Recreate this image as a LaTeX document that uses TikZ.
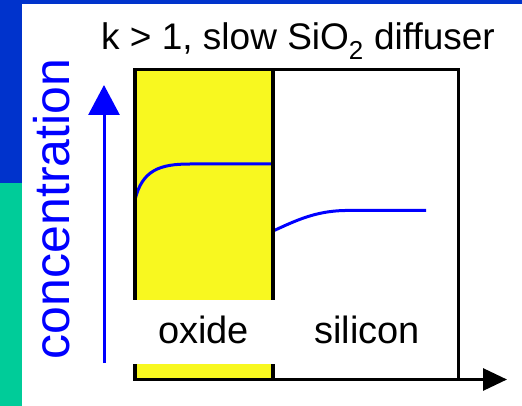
\documentclass[tikz,border=0pt]{standalone}
\usepackage{fontspec}
\setmainfont{Liberation Sans}
\usepackage{tikz}
\usetikzlibrary{arrows.meta,positioning}
\definecolor{barblue}{HTML}{0033CC}
\definecolor{barteal}{HTML}{00CC99}
\definecolor{oxyellow}{HTML}{F8F820}
\definecolor{curveblue}{HTML}{0000FF}

\begin{document}
\begin{tikzpicture}[
    x=1pt, y=-1pt,
    mylabel/.style={anchor=base, inner sep=0pt, font=\fontsize{38}{40}\selectfont},
    myaxis/.style={line width=3pt},
    mycurve/.style={curveblue, line width=3pt}
]
\useasboundingbox (0,0) rectangle (522,406);
\fill[white] (0,0) rectangle (522,406);
% side bars
\fill[barblue] (0,0) rectangle (522,4);
\fill[barblue] (0,0) rectangle (22,183);
\fill[barteal] (0,183) rectangle (22,406);

% oxide region
\fill[oxyellow] (137,71) rectangle (272,378);
\draw[mycurve] (135,200) .. controls (142,170) and (160,164) .. (190,164) -- (272,164);
\draw[mycurve] (273,231) .. controls (295,221) and (315,211) .. (345,210.5) -- (426,210.5);
\draw[line width=3.5pt] (135,69.5) rectangle (458.5,379.5);
\draw[line width=3.5pt] (273,71) -- (273,379);
\fill[white] (131,300) rectangle (456,364);

% labels
\node[mylabel, font=\fontsize{37}{40}\selectfont] (T) at (298,50) {k > 1, slow SiO\textsubscript{2} diffuser};
\node[mylabel] (O) at (203.5,343) {oxide};
\node[mylabel] (S) at (367,343) {silicon};
\node[rotate=90, inner sep=0pt, text=curveblue, font=\fontsize{50}{52}\selectfont] (C) at (52,209) {concentration};

% axes
\coordinate (V0) at (104,363);
\coordinate (V1) at (104,85);
\coordinate (H0) at (133,379.5);
\coordinate (H1) at (507,379.5);
\draw[myaxis, curveblue, -{Triangle[length=30pt,width=31pt]}] (V0) -- (V1);
\draw[myaxis, -{Triangle[length=24pt,width=22pt]}] (H0) -- (H1);
\end{tikzpicture}
\end{document}
